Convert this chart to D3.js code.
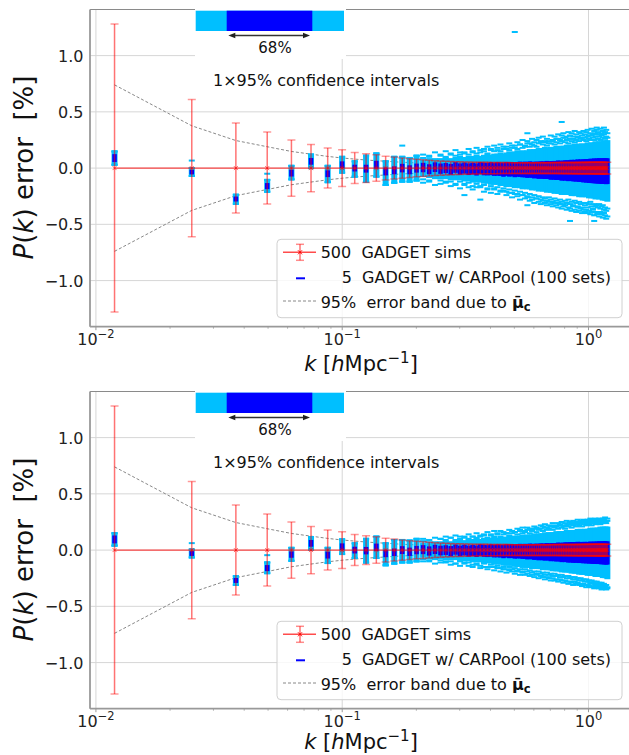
<!DOCTYPE html>
<html>
<head>
<meta charset="utf-8">
<script src="https://cdn.jsdelivr.net/npm/d3@7"></script>
<style>
  body { margin: 0; background: #fff; }
  svg { display: block; font-family: "DejaVu Sans", sans-serif; }
  text { white-space: pre; }
</style>
</head>
<body>
<div id="chart"></div>
<script>
// k bins (h/Mpc)
const kBins = [
  0.0119,0.0245,0.0370,0.0496,0.0622,0.0747,0.0873,0.0999,0.1124,0.1250,
  0.1376,0.1501,0.1627,0.1753,0.1878,0.2004,0.2130,0.2255,0.2381,0.2507,
  0.2632,0.2758,0.2884,0.3009,0.3135,0.3261,0.3386,0.3512,0.3637,0.3763,
  0.3889,0.4014,0.4140,0.4266,0.4391,0.4517,0.4643,0.4768,0.4894,0.5020,
  0.5145,0.5271,0.5397,0.5522,0.5648,0.5774,0.5899,0.6025,0.6151,0.6276,
  0.6402,0.6527,0.6653,0.6779,0.6904,0.7030,0.7156,0.7281,0.7407,0.7533,
  0.7658,0.7784,0.7910,0.8035,0.8161,0.8287,0.8412,0.8538,0.8664,0.8789,
  0.8915,0.9040,0.9166,0.9292,0.9417,0.9543,0.9669,0.9794,0.9920,1.0046,
  1.0171,1.0297,1.0423,1.0548,1.0674,1.0800,1.0925,1.1051,1.1177,1.1302,
  1.1428,1.1553,1.1679,1.1805,1.1930
]

// 500 GADGET sims: mean and 95% half width (%)
const simMean = [
  0,0,0,0,0,0,0,0,0,0,0,0,0,0,0,0,0,0,0,
  0,0,0,0,0,0,0,0,0,0,0,0,0,0,0,0,0,0,0,
  0,0,0,0,0,0,0,0,0,0,0,0,0,0,0,0,0,0,0,
  0,0,0,0,0,0,0,0,0,0,0,0,0,0,0,0,0,0,0,
  0,0,0,0,0,0,0,0,0,0,0,0,0,0,0,0,0,0,0
]
const simErr = [
  1.28,0.61,0.40,0.32,0.25,0.21,0.178,0.163,0.138,0.128,
  0.118,0.105,0.098,0.090,0.084,0.078,0.074,0.070,0.066,0.063,
  0.061,0.059,0.057,0.056,0.055,0.054,0.053,0.052,0.052,0.051,
  0.051,0.050,0.050,0.050,0.049,0.049,0.049,0.049,0.048,0.048,
  0.048,0.048,0.047,0.048,0.048,0.047,0.048,0.048,0.048,0.049,
  0.048,0.048,0.049,0.048,0.048,0.049,0.049,0.048,0.049,0.049,
  0.049,0.050,0.049,0.049,0.050,0.049,0.050,0.050,0.049,0.050,
  0.050,0.050,0.051,0.050,0.050,0.051,0.050,0.051,0.051,0.050,
  0.051,0.051,0.052,0.051,0.051,0.052,0.051,0.052,0.052,0.051,
  0.052,0.052,0.053,0.052,0.053
]

// 95% error band due to mu_c (half width)
const bandHalf = [
  0.740,0.376,0.245,0.190,0.148,0.124,0.104,0.090,0.080,0.072,
  0.066,0.061,0.056,0.052,0.049,0.046,0.044,0.042,0.040,0.038,
  0.037,0.035,0.034,0.033,0.032,0.031,0.030,0.030,0.029,0.028,
  0.028,0.027,0.027,0.026,0.026,0.026,0.025,0.025,0.025,0.025,
  0.024,0.024,0.024,0.024,0.024,0.023,0.023,0.023,0.023,0.023,
  0.023,0.023,0.022,0.022,0.022,0.022,0.022,0.022,0.022,0.022,
  0.022,0.022,0.022,0.022,0.022,0.022,0.022,0.022,0.022,0.022,
  0.022,0.022,0.022,0.022,0.022,0.022,0.022,0.022,0.022,0.022,
  0.022,0.022,0.022,0.022,0.022,0.022,0.022,0.022,0.022,0.022,
  0.022,0.022,0.022,0.022,0.022
]

// CARPool 100 sets, top panel: median, 68% half width,
// dense range (lo/hi), sparse dashes (min2/max2) and extreme dashes (min/max)
const topMid = [
  0.089,-0.036,-0.275,-0.160,-0.045,0.060,-0.050,0.030,0.000,-0.005,
  0.030,-0.030,-0.020,0.000,-0.015,0.000,
  0.005,-0.010,0.008,-0.005,0.000,-0.010,0.005,-0.008,0.000,-0.010,
  -0.005,-0.012,0.000,-0.008,-0.010,-0.005,-0.012,-0.008,-0.010,-0.015,
  -0.008,-0.012,-0.010,-0.015,-0.012,-0.010,-0.015,-0.012,-0.018,-0.012,
  -0.015,-0.018,-0.015,-0.020,-0.015,-0.018,-0.020,-0.016,-0.018,-0.022,
  -0.018,-0.020,-0.022,-0.018,-0.020,-0.024,-0.020,-0.022,-0.020,-0.024,
  -0.022,-0.020,-0.025,-0.022,-0.024,-0.020,-0.025,-0.022,-0.024,-0.026,
  -0.022,-0.025,-0.024,-0.026,-0.022,-0.025,-0.027,-0.024,-0.026,-0.025,
  -0.027,-0.024,-0.026,-0.028,-0.025,-0.027,-0.026,-0.028,-0.027
]
const topDark = [
  0.035,0.020,0.022,0.027,0.030,0.030,0.030,0.030,0.030,0.035,
  0.035,0.035,0.035,0.038,0.040,0.040,
  0.042,0.044,0.043,0.046,0.045,0.048,0.047,0.050,0.049,0.052,
  0.051,0.054,0.053,0.056,0.055,0.058,0.057,0.060,0.059,0.062,
  0.061,0.064,0.063,0.066,0.065,0.068,0.067,0.070,0.069,0.072,
  0.071,0.074,0.073,0.076,0.075,0.078,0.077,0.080,0.079,0.082,
  0.081,0.084,0.083,0.086,0.085,0.088,0.087,0.090,0.089,0.092,
  0.091,0.094,0.093,0.096,0.095,0.098,0.097,0.100,0.099,0.102,
  0.101,0.104,0.103,0.106,0.105,0.108,0.107,0.110,0.109,0.111,
  0.110,0.112,0.111,0.113,0.112,0.114,0.113,0.115,0.114
]
const topLo = [
  0.030,-0.070,-0.317,-0.210,-0.100,0.000,-0.125,-0.040,-0.075,-0.120,
  -0.075,-0.150,-0.130,-0.120,-0.120,-0.110,
  -0.07,-0.08,-0.08,-0.09,-0.09,-0.10,-0.10,-0.10,-0.11,-0.11,
  -0.12,-0.12,-0.12,-0.13,-0.13,-0.14,-0.14,-0.14,-0.15,-0.15,
  -0.16,-0.15,-0.16,-0.17,-0.16,-0.17,-0.18,-0.17,-0.18,-0.18,
  -0.19,-0.18,-0.19,-0.20,-0.19,-0.20,-0.20,-0.21,-0.20,-0.21,
  -0.21,-0.22,-0.21,-0.22,-0.22,-0.23,-0.22,-0.23,-0.23,-0.22,
  -0.23,-0.24,-0.23,-0.24,-0.24,-0.23,-0.25,-0.24,-0.25,-0.24,
  -0.25,-0.25,-0.24,-0.26,-0.25,-0.26,-0.25,-0.26,-0.27,-0.26,
  -0.26,-0.27,-0.26,-0.27,-0.28,-0.27,-0.28,-0.28,-0.29
]
const topHi = [
  0.148,0.000,-0.237,-0.105,0.020,0.120,0.020,0.100,0.060,0.110,
  0.130,0.060,0.100,0.100,0.090,0.110,
  0.07,0.08,0.07,0.08,0.09,0.08,0.09,0.10,0.09,0.10,
  0.10,0.11,0.10,0.11,0.12,0.11,0.12,0.12,0.13,0.12,
  0.13,0.14,0.13,0.14,0.15,0.14,0.15,0.14,0.15,0.16,
  0.15,0.16,0.16,0.17,0.16,0.17,0.18,0.17,0.17,0.18,
  0.17,0.18,0.19,0.18,0.18,0.19,0.19,0.18,0.20,0.19,
  0.20,0.19,0.20,0.21,0.19,0.20,0.21,0.20,0.21,0.20,
  0.21,0.20,0.22,0.21,0.21,0.22,0.21,0.22,0.23,0.21,
  0.22,0.23,0.22,0.23,0.22,0.23,0.24,0.23,0.24
]
const topMin2 = [
  0.030,-0.070,-0.317,-0.210,-0.100,0.000,-0.125,-0.040,-0.075,-0.120,
  -0.075,-0.150,-0.130,-0.120,-0.120,-0.110,
  -0.10,-0.12,-0.09,-0.11,-0.13,-0.12,-0.14,-0.12,-0.15,-0.13,
  -0.16,-0.14,-0.17,-0.15,-0.18,-0.16,-0.19,-0.17,-0.20,-0.18,
  -0.21,-0.19,-0.22,-0.20,-0.23,-0.21,-0.24,-0.22,-0.25,-0.23,
  -0.26,-0.24,-0.27,-0.25,-0.28,-0.26,-0.27,-0.29,-0.26,-0.28,
  -0.30,-0.27,-0.29,-0.31,-0.28,-0.30,-0.32,-0.29,-0.31,-0.28,
  -0.32,-0.30,-0.33,-0.29,-0.31,-0.34,-0.30,-0.32,-0.35,-0.31,
  -0.33,-0.31,-0.35,-0.32,-0.30,-0.34,-0.36,-0.32,-0.34,-0.33,
  -0.35,-0.32,-0.36,-0.34,-0.33,-0.37,-0.35,-0.38,-0.36
]
const topMax2 = [
  0.148,0.000,-0.237,-0.105,0.020,0.120,0.020,0.100,0.060,0.110,
  0.130,0.060,0.100,0.100,0.090,0.110,
  0.09,0.11,0.08,0.12,0.10,0.13,0.11,0.12,0.14,0.12,
  0.15,0.13,0.14,0.17,0.13,0.16,0.15,0.18,0.15,0.17,
  0.19,0.16,0.18,0.20,0.17,0.21,0.18,0.20,0.22,0.19,
  0.21,0.23,0.19,0.22,0.24,0.21,0.23,0.20,0.24,0.22,
  0.25,0.21,0.23,0.26,0.22,0.24,0.27,0.23,0.25,0.22,
  0.26,0.24,0.28,0.23,0.25,0.27,0.24,0.26,0.29,0.25,
  0.27,0.24,0.28,0.26,0.25,0.29,0.27,0.25,0.28,0.30,
  0.26,0.28,0.25,0.29,0.27,0.30,0.26,0.28,0.27
]
const topMin = [
  0.030,-0.070,-0.317,-0.210,-0.100,0.000,-0.125,-0.040,-0.075,-0.120,
  -0.075,-0.150,-0.130,-0.120,-0.120,-0.110,
  -0.13,-0.11,-0.15,-0.14,-0.12,-0.16,-0.15,-0.18,-0.14,-0.17,
  -0.19,-0.17,-0.16,-0.21,-0.19,-0.22,-0.18,-0.23,-0.21,-0.20,
  -0.24,-0.22,-0.26,-0.23,-0.25,-0.28,-0.24,-0.27,-0.26,-0.29,
  -0.28,-0.31,-0.27,-0.30,-0.32,-0.29,-0.31,-0.33,-0.30,-0.32,
  -0.34,-0.31,-0.33,-0.35,-0.32,-0.36,-0.34,-0.33,-0.37,-0.35,
  -0.36,-0.38,-0.34,-0.37,-0.39,-0.35,-0.38,-0.36,-0.40,-0.37,
  -0.39,-0.37,-0.40,-0.38,-0.41,-0.39,-0.37,-0.42,-0.39,-0.41,
  -0.40,-0.43,-0.39,-0.41,-0.44,-0.40,-0.42,-0.45,-0.43
]
const topMax = [
  0.148,0.000,-0.237,-0.105,0.020,0.120,0.020,0.100,0.060,0.110,
  0.130,0.060,0.100,0.100,0.090,0.110,
  0.12,0.10,0.14,0.11,0.15,0.12,0.16,0.14,0.13,0.17,
  0.14,0.18,0.16,0.15,0.19,0.17,0.20,0.16,0.21,0.19,
  0.17,0.22,0.20,0.18,0.23,0.21,0.25,0.19,0.24,0.22,
  0.26,0.20,0.25,0.27,0.23,0.28,0.24,0.26,0.22,0.29,
  0.24,0.28,0.26,0.30,0.25,0.29,0.31,0.27,0.28,0.32,
  0.29,0.31,0.26,0.33,0.30,0.28,0.32,0.31,0.27,0.33,
  0.30,0.32,0.34,0.29,0.31,0.35,0.30,0.33,0.31,0.34,
  0.32,0.30,0.35,0.31,0.33,0.36,0.32,0.34,0.31
]
const topOutliers = [
  [0.0245,0.067],[0.0496,-0.050],[0.1753,0.20],[0.3135,-0.24],[0.3637,-0.28],
  [0.5020,1.21],[0.5648,0.31],[0.5648,-0.33],[0.7784,0.41],[0.8412,-0.47],
  [1.0548,-0.47],[1.0800,0.36],[1.1553,-0.40]
]

// CARPool 100 sets, bottom panel
const botMid = [
  0.095,-0.030,-0.270,-0.160,-0.040,0.060,-0.045,0.030,0.000,-0.005,
  0.025,-0.030,-0.020,0.000,-0.015,0.000,
  0.004,-0.008,0.006,-0.004,0.000,-0.009,0.004,-0.007,0.000,-0.009,
  -0.004,-0.010,0.000,-0.007,-0.009,-0.004,-0.010,-0.007,-0.009,-0.013,
  -0.007,-0.011,-0.009,-0.013,-0.011,-0.009,-0.013,-0.011,-0.016,-0.011,
  -0.013,-0.016,-0.013,-0.018,-0.013,-0.016,-0.018,-0.014,-0.016,-0.020,
  -0.016,-0.018,-0.020,-0.016,-0.018,-0.022,-0.018,-0.020,-0.018,-0.022,
  -0.020,-0.018,-0.023,-0.020,-0.022,-0.018,-0.023,-0.020,-0.022,-0.024,
  -0.020,-0.023,-0.022,-0.024,-0.020,-0.023,-0.025,-0.022,-0.024,-0.023,
  -0.025,-0.022,-0.024,-0.026,-0.023,-0.025,-0.024,-0.026,-0.025
]
const botDark = [
  0.035,0.022,0.022,0.027,0.028,0.030,0.030,0.030,0.030,0.033,
  0.033,0.033,0.033,0.035,0.037,0.037,
  0.040,0.041,0.041,0.043,0.043,0.045,0.045,0.047,0.047,0.049,
  0.049,0.051,0.051,0.053,0.053,0.055,0.055,0.057,0.057,0.059,
  0.059,0.061,0.061,0.063,0.063,0.065,0.065,0.067,0.067,0.069,
  0.069,0.071,0.071,0.073,0.073,0.075,0.075,0.077,0.077,0.079,
  0.079,0.081,0.081,0.083,0.083,0.085,0.085,0.087,0.087,0.089,
  0.089,0.090,0.090,0.091,0.091,0.092,0.092,0.093,0.093,0.094,
  0.094,0.095,0.095,0.096,0.096,0.097,0.097,0.098,0.098,0.099,
  0.099,0.100,0.100,0.101,0.101,0.102,0.102,0.103,0.103
]
const botLo = [
  0.040,-0.065,-0.310,-0.205,-0.095,0.005,-0.115,-0.035,-0.070,-0.110,
  -0.070,-0.135,-0.120,-0.110,-0.110,-0.100,
  -0.06,-0.07,-0.07,-0.07,-0.08,-0.08,-0.08,-0.09,-0.09,-0.09,
  -0.10,-0.10,-0.10,-0.11,-0.11,-0.11,-0.12,-0.12,-0.12,-0.13,
  -0.13,-0.13,-0.13,-0.14,-0.14,-0.14,-0.15,-0.14,-0.15,-0.15,
  -0.16,-0.15,-0.16,-0.16,-0.16,-0.17,-0.16,-0.17,-0.17,-0.17,
  -0.18,-0.17,-0.18,-0.18,-0.18,-0.19,-0.18,-0.19,-0.19,-0.19,
  -0.19,-0.20,-0.19,-0.20,-0.20,-0.20,-0.21,-0.20,-0.21,-0.21,
  -0.21,-0.21,-0.22,-0.21,-0.22,-0.22,-0.22,-0.22,-0.23,-0.22,
  -0.23,-0.23,-0.23,-0.23,-0.24,-0.23,-0.24,-0.24,-0.25
]
const botHi = [
  0.150,0.005,-0.232,-0.110,0.020,0.115,0.020,0.095,0.060,0.100,
  0.120,0.060,0.090,0.090,0.085,0.100,
  0.06,0.07,0.06,0.07,0.08,0.07,0.08,0.09,0.08,0.09,
  0.09,0.10,0.09,0.10,0.10,0.10,0.11,0.10,0.11,0.11,
  0.11,0.12,0.11,0.12,0.12,0.12,0.13,0.12,0.13,0.13,
  0.13,0.14,0.13,0.14,0.14,0.14,0.15,0.14,0.15,0.15,
  0.15,0.15,0.16,0.15,0.16,0.16,0.16,0.16,0.17,0.16,
  0.17,0.16,0.17,0.17,0.17,0.18,0.17,0.18,0.17,0.18,
  0.18,0.17,0.18,0.18,0.19,0.18,0.19,0.18,0.19,0.19,
  0.19,0.19,0.20,0.19,0.20,0.19,0.20,0.20,0.20
]
const botMin2 = [
  0.040,-0.065,-0.310,-0.205,-0.095,0.005,-0.115,-0.035,-0.070,-0.110,
  -0.070,-0.135,-0.120,-0.110,-0.110,-0.100,
  -0.08,-0.10,-0.08,-0.09,-0.11,-0.10,-0.12,-0.10,-0.12,-0.11,
  -0.13,-0.12,-0.14,-0.12,-0.15,-0.13,-0.15,-0.14,-0.16,-0.15,
  -0.17,-0.15,-0.17,-0.16,-0.18,-0.17,-0.19,-0.17,-0.19,-0.18,
  -0.20,-0.19,-0.21,-0.19,-0.21,-0.20,-0.22,-0.20,-0.22,-0.21,
  -0.23,-0.21,-0.23,-0.22,-0.24,-0.22,-0.24,-0.23,-0.25,-0.23,
  -0.25,-0.24,-0.26,-0.24,-0.26,-0.25,-0.27,-0.25,-0.27,-0.26,
  -0.28,-0.26,-0.28,-0.27,-0.29,-0.27,-0.29,-0.28,-0.30,-0.28,
  -0.30,-0.29,-0.31,-0.29,-0.31,-0.30,-0.32,-0.31,-0.33
]
const botMax2 = [
  0.150,0.005,-0.232,-0.110,0.020,0.115,0.020,0.095,0.060,0.100,
  0.120,0.060,0.090,0.090,0.085,0.100,
  0.08,0.09,0.07,0.10,0.09,0.11,0.09,0.10,0.12,0.10,
  0.12,0.11,0.12,0.14,0.11,0.13,0.12,0.15,0.12,0.14,
  0.15,0.13,0.15,0.16,0.14,0.17,0.15,0.16,0.18,0.15,
  0.17,0.19,0.16,0.18,0.19,0.17,0.20,0.18,0.19,0.21,
  0.18,0.20,0.21,0.19,0.22,0.20,0.21,0.19,0.22,0.21,
  0.23,0.20,0.22,0.24,0.21,0.23,0.22,0.24,0.21,0.23,
  0.25,0.22,0.24,0.23,0.25,0.22,0.24,0.26,0.23,0.25,
  0.24,0.26,0.23,0.25,0.24,0.26,0.25,0.24,0.26
]
const botMin = [
  0.040,-0.065,-0.310,-0.205,-0.095,0.005,-0.115,-0.035,-0.070,-0.110,
  -0.070,-0.135,-0.120,-0.110,-0.110,-0.100,
  -0.10,-0.09,-0.12,-0.11,-0.10,-0.13,-0.12,-0.14,-0.11,-0.14,
  -0.15,-0.13,-0.16,-0.15,-0.17,-0.15,-0.18,-0.16,-0.19,-0.17,
  -0.20,-0.18,-0.19,-0.21,-0.19,-0.22,-0.20,-0.22,-0.21,-0.23,
  -0.22,-0.24,-0.22,-0.25,-0.23,-0.24,-0.26,-0.24,-0.25,-0.27,
  -0.25,-0.27,-0.26,-0.28,-0.26,-0.27,-0.29,-0.27,-0.28,-0.30,
  -0.28,-0.29,-0.31,-0.28,-0.30,-0.29,-0.31,-0.30,-0.32,-0.30,
  -0.31,-0.33,-0.31,-0.32,-0.30,-0.33,-0.32,-0.34,-0.31,-0.33,
  -0.32,-0.34,-0.33,-0.35,-0.32,-0.34,-0.33,-0.35,-0.34
]
const botMax = [
  0.150,0.005,-0.232,-0.110,0.020,0.115,0.020,0.095,0.060,0.100,
  0.120,0.060,0.090,0.090,0.085,0.100,
  0.10,0.09,0.11,0.10,0.12,0.11,0.13,0.12,0.11,0.14,
  0.12,0.15,0.13,0.13,0.16,0.14,0.17,0.14,0.17,0.16,
  0.15,0.18,0.17,0.16,0.19,0.18,0.20,0.17,0.20,0.19,
  0.18,0.21,0.20,0.19,0.22,0.21,0.23,0.20,0.22,0.21,
  0.24,0.22,0.21,0.24,0.23,0.25,0.22,0.24,0.26,0.23,
  0.25,0.24,0.26,0.23,0.25,0.27,0.24,0.26,0.25,0.27,
  0.26,0.24,0.27,0.26,0.28,0.25,0.27,0.26,0.28,0.27,
  0.25,0.28,0.27,0.26,0.28,0.27,0.29,0.26,0.28
]
const botOutliers = [[0.0245,0.062],[0.0496,-0.045]]

const yTicks = [-1.0, -0.5, 0.0, 0.5, 1.0]
const xMajor = [0.01, 0.1, 1]
const xMajorExp = ["−2", "−1", "0"]

const W = 629, H = 755
const plotL = 90, plotR = 632, plotT = 9.5, plotB = 326.7
const panelGap = 382

const x = d3.scaleLog().domain([0.00946, 1.502]).range([plotL, plotR])
const y = d3.scaleLinear().domain([-1.41, 1.41]).range([plotB, plotT])

const svg = d3.select("#chart").append("svg")
  .attr("width", W).attr("height", H)

svg.append("defs").append("clipPath").attr("id", "plotClip")
  .append("rect")
  .attr("x", plotL).attr("y", plotT)
  .attr("width", plotR - plotL).attr("height", plotB - plotT)

const LIGHT = "#00bfff", DARK = "#0000ff"

function drawPanel(offset, blue, xLabelY) {
  const g = svg.append("g").attr("transform", `translate(0,${offset})`)

  // grid
  g.append("g").selectAll("line").data(yTicks).join("line")
    .attr("x1", plotL).attr("x2", plotR)
    .attr("y1", d => y(d)).attr("y2", d => y(d))
    .attr("stroke", "#d6d6d6").attr("stroke-width", 1)
  g.append("g").selectAll("line").data(xMajor).join("line")
    .attr("x1", d => x(d)).attr("x2", d => x(d))
    .attr("y1", plotT).attr("y2", plotB)
    .attr("stroke", "#d6d6d6").attr("stroke-width", 1)

  const plot = g.append("g").attr("clip-path", "url(#plotClip)")

  // error band due to mu_c
  const bandLine = sign => d3.line()
    .x((d, i) => x(kBins[i]))
    .y(d => y(sign * d))
  ;[1, -1].forEach(s => {
    plot.append("path").datum(bandHalf)
      .attr("d", bandLine(s))
      .attr("fill", "none").attr("stroke", "#888")
      .attr("stroke-width", 1).attr("stroke-dasharray", "3,2")
  })

  // CARPool estimates
  const dw = 6, dwDark = 4.5
  const idx = d3.range(kBins.length)
  plot.append("g").selectAll("rect").data(idx).join("rect")
    .attr("x", i => x(kBins[i]) - dw / 2)
    .attr("y", i => y(blue.hi[i]) - 1)
    .attr("width", dw)
    .attr("height", i => y(blue.lo[i]) - y(blue.hi[i]) + 2)
    .attr("fill", LIGHT)
  const dashes = [blue.min2, blue.max2, blue.min, blue.max]
  dashes.forEach(arr => {
    plot.append("g").selectAll("rect").data(idx).join("rect")
      .attr("x", i => x(kBins[i]) - dw / 2)
      .attr("y", i => y(arr[i]) - 1)
      .attr("width", dw).attr("height", 2)
      .attr("fill", LIGHT)
  })
  plot.append("g").selectAll("rect").data(blue.out).join("rect")
    .attr("x", d => x(d[0]) - dw / 2)
    .attr("y", d => y(d[1]) - 1)
    .attr("width", dw).attr("height", 2)
    .attr("fill", LIGHT)
  plot.append("g").selectAll("rect").data(idx).join("rect")
    .attr("x", i => x(kBins[i]) - dwDark / 2)
    .attr("y", i => y(blue.mid[i] + blue.dark[i]))
    .attr("width", dwDark)
    .attr("height", i => y(blue.mid[i] - blue.dark[i]) - y(blue.mid[i] + blue.dark[i]))
    .attr("fill", DARK)

  // 500 GADGET sims with errorbars
  const eb = plot.append("g")
  eb.selectAll("line.v").data(idx).join("line")
    .attr("class", "v")
    .attr("x1", i => x(kBins[i])).attr("x2", i => x(kBins[i]))
    .attr("y1", i => y(simMean[i] + simErr[i]))
    .attr("y2", i => y(simMean[i] - simErr[i]))
    .attr("stroke", "#ff0000").attr("stroke-opacity", 0.55).attr("stroke-width", 1.5)
  ;[1, -1].forEach(s => {
    eb.append("g").selectAll("line").data(idx).join("line")
      .attr("x1", i => x(kBins[i]) - 4).attr("x2", i => x(kBins[i]) + 4)
      .attr("y1", i => y(simMean[i] + s * simErr[i]))
      .attr("y2", i => y(simMean[i] + s * simErr[i]))
      .attr("stroke", "#ff0000").attr("stroke-opacity", 0.4).attr("stroke-width", 1.5)
  })
  eb.append("path").datum(simMean)
    .attr("d", d3.line().x((d, i) => x(kBins[i])).y(d => y(d)))
    .attr("fill", "none").attr("stroke", "#ff0000")
    .attr("stroke-opacity", 0.7).attr("stroke-width", 1.4)
  eb.append("g").selectAll("path").data(idx).join("path")
    .attr("d", i => {
      const cx = x(kBins[i]), cy = y(simMean[i]), r = 2
      return `M${cx - r},${cy - r}L${cx + r},${cy + r}M${cx - r},${cy + r}L${cx + r},${cy - r}`
    })
    .attr("stroke", "#ff0000").attr("stroke-opacity", 0.6).attr("stroke-width", 1)

  // spines
  g.append("line").attr("x1", plotL).attr("x2", plotR).attr("y1", plotT).attr("y2", plotT)
    .attr("stroke", "#8a8a8a").attr("stroke-width", 1.2)
  g.append("line").attr("x1", plotL).attr("x2", plotL).attr("y1", plotT).attr("y2", plotB)
    .attr("stroke", "#999").attr("stroke-width", 1.8)
  g.append("line").attr("x1", plotL).attr("x2", plotR).attr("y1", plotB).attr("y2", plotB)
    .attr("stroke", "#999").attr("stroke-width", 1.8)

  // x ticks
  const minor = []
  ;[0.01, 0.1, 1].forEach(d => {
    for (let m = 2; m <= 9; m++) if (m * d < 1.502) minor.push(m * d)
  })
  g.append("g").selectAll("line").data(minor).join("line")
    .attr("x1", d => x(d)).attr("x2", d => x(d))
    .attr("y1", plotB).attr("y2", plotB + 2)
    .attr("stroke", "#999").attr("stroke-width", 0.8)
  g.append("g").selectAll("line").data(xMajor).join("line")
    .attr("x1", d => x(d)).attr("x2", d => x(d))
    .attr("y1", plotB).attr("y2", plotB + 3.5)
    .attr("stroke", "#999").attr("stroke-width", 1)
  xMajor.forEach((d, i) => {
    const t = g.append("text").attr("x", x(d)).attr("y", plotB + 18.5)
      .attr("text-anchor", "middle").attr("font-size", 16).attr("fill", "#222")
    t.append("tspan").text("10")
    t.append("tspan").attr("font-size", 11.5).attr("dy", -7).text(xMajorExp[i])
  })

  // y tick labels
  g.append("g").selectAll("text").data(yTicks).join("text")
    .attr("x", 83.5).attr("y", d => y(d) + 6)
    .attr("text-anchor", "end").attr("font-size", 16).attr("fill", "#222")
    .text(d => d3.format(".1f")(d))

  // axis labels
  const yl = g.append("text")
    .attr("transform", `translate(33.3,167.5) rotate(-90)`)
    .attr("text-anchor", "middle").attr("font-size", 26).attr("fill", "#111")
  yl.append("tspan").attr("font-style", "italic").text("P")
  yl.append("tspan").text("(")
  yl.append("tspan").attr("font-style", "italic").text("k")
  yl.append("tspan").text(") error  [%]")

  const xl = g.append("text").attr("x", 361).attr("y", xLabelY)
    .attr("text-anchor", "middle").attr("font-size", 21).attr("fill", "#111")
  xl.append("tspan").attr("font-style", "italic").text("k")
  xl.append("tspan").text(" [")
  xl.append("tspan").attr("font-style", "italic").text("h")
  xl.append("tspan").text("Mpc")
  xl.append("tspan").attr("font-size", 15).attr("dy", -8).text("−1")
  xl.append("tspan").attr("dy", 8).text("]")

  // inset: 68% strip
  g.append("rect").attr("x", 195).attr("y", 0).attr("width", 151).attr("height", 59)
    .attr("fill", "#fff")
  g.append("rect").attr("x", 195.7).attr("y", 10.7).attr("width", 148.3).attr("height", 20.3)
    .attr("fill", LIGHT)
  g.append("rect").attr("x", 226.7).attr("y", 10.7).attr("width", 85.6).attr("height", 20.3)
    .attr("fill", DARK)
  const ay = 35.5, ax1 = 228.3, ax2 = 310
  g.append("line").attr("x1", ax1 + 4).attr("x2", ax2 - 4).attr("y1", ay).attr("y2", ay)
    .attr("stroke", "#333").attr("stroke-width", 1.4)
  g.append("path").attr("d", `M${ax1},${ay}L${ax1 + 7},${ay - 2.8}L${ax1 + 7},${ay + 2.8}Z`)
    .attr("fill", "#222")
  g.append("path").attr("d", `M${ax2},${ay}L${ax2 - 7},${ay - 2.8}L${ax2 - 7},${ay + 2.8}Z`)
    .attr("fill", "#222")
  g.append("text").attr("x", 258.3).attr("y", 53.3).attr("font-size", 15).attr("fill", "#111")
    .text("68%")
  g.append("text").attr("x", 213).attr("y", 86).attr("font-size", 16).attr("fill", "#111")
    .text("1×95% confidence intervals")

  // legend
  const lg = g.append("g")
  lg.append("rect").attr("x", 277).attr("y", 239.3).attr("width", 345).attr("height", 78.4)
    .attr("rx", 4).attr("fill", "#fff").attr("fill-opacity", 0.8)
    .attr("stroke", "#d0d0d0").attr("stroke-width", 1)
  const ly1 = 252.3
  lg.append("line").attr("x1", 283).attr("x2", 316).attr("y1", ly1).attr("y2", ly1)
    .attr("stroke", "#ff0000").attr("stroke-opacity", 0.7).attr("stroke-width", 1.4)
  lg.append("line").attr("x1", 300).attr("x2", 300).attr("y1", ly1 - 8).attr("y2", ly1 + 8)
    .attr("stroke", "#ff0000").attr("stroke-opacity", 0.55).attr("stroke-width", 1.5)
  ;[-8, 8].forEach(o => lg.append("line").attr("x1", 296).attr("x2", 304)
    .attr("y1", ly1 + o).attr("y2", ly1 + o)
    .attr("stroke", "#ff0000").attr("stroke-opacity", 0.45).attr("stroke-width", 1.5))
  lg.append("path").attr("d", `M298,${ly1 - 2}L302,${ly1 + 2}M298,${ly1 + 2}L302,${ly1 - 2}`)
    .attr("stroke", "#ff0000").attr("stroke-width", 1)
  lg.append("line").attr("x1", 296).attr("x2", 305).attr("y1", 278.3).attr("y2", 278.3)
    .attr("stroke", DARK).attr("stroke-width", 2)
  lg.append("line").attr("x1", 283).attr("x2", 316).attr("y1", 301).attr("y2", 301)
    .attr("stroke", "#888").attr("stroke-width", 1).attr("stroke-dasharray", "3,2")

  lg.append("text").attr("x", 320.7).attr("y", 258.3).attr("font-size", 16).attr("fill", "#111")
    .text("500  GADGET sims")
  lg.append("text").attr("x", 341.7).attr("y", 283.3).attr("font-size", 16).attr("fill", "#111")
    .text("5  GADGET w/ CARPool (100 sets)")
  const l3 = lg.append("text").attr("x", 320.7).attr("y", 308.3).attr("font-size", 16).attr("fill", "#111")
  l3.append("tspan").text("95%  error band due to ")
  l3.append("tspan").attr("font-weight", "bold").text("μ\u0304")
  l3.append("tspan").attr("font-weight", "bold").attr("font-size", 11.5).attr("dy", 3).text("c")
}

const topBlue = { mid: topMid, dark: topDark, lo: topLo, hi: topHi,
  min2: topMin2, max2: topMax2, min: topMin, max: topMax, out: topOutliers }
const botBlue = { mid: botMid, dark: botDark, lo: botLo, hi: botHi,
  min2: botMin2, max2: botMax2, min: botMin, max: botMax, out: botOutliers }
drawPanel(0, topBlue, 370.5)
drawPanel(panelGap, botBlue, 367.3)
</script>
</body>
</html>
